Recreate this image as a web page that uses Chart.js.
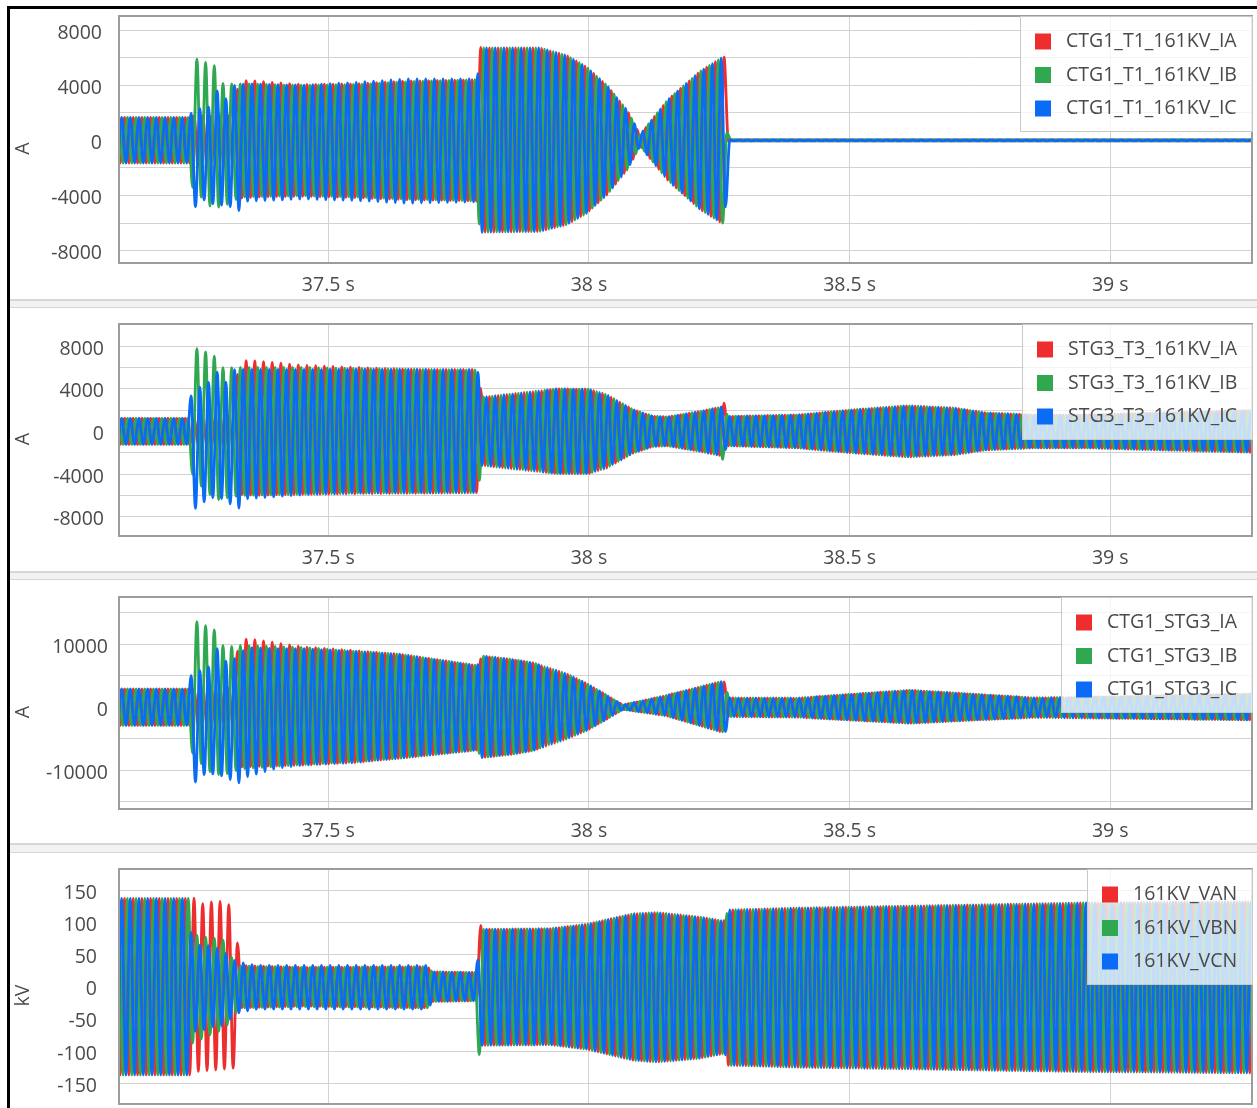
<!DOCTYPE html>
<html>
<head>
<meta charset="utf-8">
<script src="https://cdn.jsdelivr.net/npm/chart.js@4.4.1/dist/chart.umd.min.js"></script>
<style>
  html, body { margin: 0; padding: 0; background: #fff; overflow: hidden; }
  body { position: relative; width: 1257px; height: 1108px; }
  canvas { position: absolute; left: 0; }
  .frame { position: absolute; left: 7px; top: 6px; width: 1300px; height: 1200px;
           border-left: 3px solid #000; border-top: 3px solid #000; pointer-events: none; z-index: 2; }
  .splitter { position: absolute; left: 10px; right: 0; box-sizing: border-box; background: #f2f2f2;
              border-top: 2px solid #d6d6d6; border-bottom: 1px solid #d6d6d6; }
</style>
</head>
<body>
<div class="frame"></div>
<canvas id="p1" width="1257" height="290" style="top:9px"></canvas>
<div class="splitter" style="top:299px;height:9px"></div>
<canvas id="p2" width="1257" height="263" style="top:308px"></canvas>
<div class="splitter" style="top:571px;height:9px"></div>
<canvas id="p3" width="1257" height="263" style="top:580px"></canvas>
<div class="splitter" style="top:843px;height:10px"></div>
<canvas id="p4" width="1257" height="300" style="top:853px"></canvas>

<script>
// time axis (s) and 60 Hz carrier
const timeMin = 37.0985;
const timeMax = 39.2718;
const lineHz = 60;
const peakOrigin = 37.2424; // a positive peak of phase A
const xTicks = [37.5, 38, 38.5, 39];

// y grid / label values
const ampGrid8k = [-8000, -6000, -4000, -2000, 0, 2000, 4000, 6000, 8000];
const ampLabels8k = [-8000, -4000, 0, 4000, 8000];
const ampGrid15k = [-15000, -10000, -5000, 0, 5000, 10000, 15000];
const ampLabels15k = [-10000, 0, 10000];
const kvGrid = [-150, -100, -50, 0, 50, 100, 150];

// envelopes: [time s, positive peak, negative peak]
const ctg1T1Labels = ["CTG1_T1_161KV_IA", "CTG1_T1_161KV_IB", "CTG1_T1_161KV_IC"];
const ctg1T1IA = [
    [37.09, 1670, -1650], [37.234, 1670, -1650], [37.240, 1800, -1800], [37.322, 1800, -1800],
    [37.327, 4350, -4200], [37.36, 4300, -4100], [37.45, 4050, -4050], [37.55, 4100, -4150],
    [37.65, 4300, -4300], [37.786, 4400, -4400], [37.791, 6750, -6800], [37.80, 6700, -6650],
    [37.906, 6700, -6600], [37.958, 6150, -6100], [37.996, 5300, -5270], [38.034, 4000, -3950],
    [38.073, 2200, -2150], [38.098, 400, -400], [38.150, 2900, -2850], [38.213, 5000, -5000],
    [38.259, 6100, -6100], [38.265, 50, -50], [39.30, 50, -50],
];
const ctg1T1IB = [
    [37.09, 1670, -1650], [37.234, 1670, -1650], [37.238, 3000, -3350], [37.246, 5900, -3600],
    [37.256, 5800, -4100], [37.270, 5550, -4700], [37.283, 5400, -4950], [37.292, 4150, -4800],
    [37.31, 4100, -4600], [37.33, 4100, -4100], [37.45, 4000, -4000], [37.55, 4050, -4100],
    [37.65, 4250, -4250], [37.786, 4400, -4400], [37.791, 6750, -6700], [37.80, 6700, -6650],
    [37.906, 6700, -6600], [37.958, 6150, -6100], [37.996, 5300, -5270], [38.034, 4000, -3950],
    [38.073, 2200, -2150], [38.098, 400, -400], [38.150, 2900, -2850], [38.213, 5000, -5000],
    [38.255, 6000, -6000], [38.260, 6850, -6000], [38.265, 50, -50], [39.30, 50, -50],
];
const ctg1T1IC = [
    [37.09, 1670, -1650], [37.234, 1670, -1650], [37.2365, 1950, -1650], [37.2453, 2100, -4850],
    [37.2536, 2300, -4600], [37.262, 2350, -4300], [37.2703, 2400, -4450], [37.2787, 3000, -4600],
    [37.287, 3600, -4650], [37.2953, 3300, -4700], [37.3036, 3000, -4750], [37.312, 3500, -4800],
    [37.3203, 4000, -4950], [37.3287, 4050, -5100], [37.3453, 4100, -4400], [37.45, 4000, -4250],
    [37.55, 4200, -4350], [37.65, 4450, -4550], [37.786, 4450, -4450], [37.791, 6700, -6700],
    [37.80, 6700, -6650], [37.906, 6700, -6600], [37.958, 6150, -6100], [37.996, 5300, -5270],
    [38.034, 4000, -3950], [38.073, 2200, -2150], [38.098, 400, -400], [38.150, 2900, -2850],
    [38.213, 5000, -5000], [38.255, 6000, -6000], [38.261, 6000, -6100], [38.265, 50, -50],
    [39.30, 50, -50],
];

const stg3T3Labels = ["STG3_T3_161KV_IA", "STG3_T3_161KV_IB", "STG3_T3_161KV_IC"];
const stg3T3IA = [
    [37.09, 1220, -1220], [37.234, 1220, -1220], [37.322, 1500, -1500], [37.327, 6650, -5900],
    [37.36, 6600, -6000], [37.45, 6200, -5900], [37.55, 6000, -5850], [37.676, 5800, -5800],
    [37.786, 5800, -5750], [37.789, 5800, -6100], [37.794, 3200, -3200], [37.85, 3500, -3500],
    [37.938, 3980, -3950], [38.00, 3950, -3950], [38.034, 3450, -3450], [38.084, 2050, -2050],
    [38.123, 1420, -1420], [38.150, 1350, -1350], [38.213, 1880, -1880], [38.255, 2300, -2300],
    [38.261, 2800, -2300], [38.266, 1400, -1350], [38.40, 1550, -1550], [38.50, 2000, -2000],
    [38.61, 2400, -2400], [38.70, 2200, -2200], [38.76, 1750, -1750], [38.85, 1550, -1550],
    [38.95, 1550, -1550], [39.10, 1750, -1750], [39.30, 2000, -2000],
];
const stg3T3IB = [
    [37.09, 1220, -1220], [37.234, 1220, -1220], [37.238, 3000, -3900], [37.246, 7800, -4500],
    [37.262, 7500, -5500], [37.28, 7200, -6200], [37.290, 6000, -6400], [37.31, 5950, -6200],
    [37.33, 6000, -6000], [37.45, 6000, -5900], [37.55, 5900, -5800], [37.786, 5750, -5750],
    [37.794, 3200, -3200], [37.85, 3500, -3500], [37.938, 3980, -3950], [38.00, 3950, -3950],
    [38.034, 3450, -3450], [38.084, 2050, -2050], [38.123, 1420, -1420], [38.150, 1350, -1350],
    [38.213, 1880, -1880], [38.255, 2300, -2300], [38.260, 2300, -3600], [38.266, 1400, -1350],
    [38.40, 1550, -1550], [38.50, 2000, -2000], [38.61, 2400, -2400], [38.70, 2200, -2200],
    [38.76, 1750, -1750], [38.85, 1550, -1550], [38.95, 1550, -1550], [39.10, 1750, -1750],
    [39.30, 2000, -2000],
];
const stg3T3IC = [
    [37.09, 1220, -1220], [37.234, 1220, -1220], [37.2365, 3300, -1300], [37.2453, 3800, -7300],
    [37.2536, 4150, -6800], [37.262, 4300, -6600], [37.2703, 4600, -6300], [37.2787, 5000, -6200],
    [37.287, 5550, -6250], [37.2953, 5000, -6300], [37.3036, 4600, -6400], [37.312, 5200, -6800],
    [37.3203, 5800, -7100], [37.3287, 5800, -7200], [37.3453, 5800, -6300], [37.45, 5800, -5950],
    [37.55, 5850, -5800], [37.786, 5800, -5750], [37.794, 3200, -3200], [37.85, 3500, -3500],
    [37.938, 3980, -3950], [38.00, 3950, -3950], [38.034, 3450, -3450], [38.084, 2050, -2050],
    [38.123, 1420, -1420], [38.150, 1350, -1350], [38.213, 1880, -1880], [38.255, 2300, -2300],
    [38.266, 1400, -1350], [38.40, 1550, -1550], [38.50, 2000, -2000], [38.61, 2400, -2400],
    [38.70, 2200, -2200], [38.76, 1750, -1750], [38.85, 1550, -1550], [38.95, 1550, -1550],
    [39.10, 1750, -1750], [39.30, 2000, -2000],
];

const ctg1Stg3Labels = ["CTG1_STG3_IA", "CTG1_STG3_IB", "CTG1_STG3_IC"];
const ctg1Stg3IA = [
    [37.09, 2900, -2900], [37.234, 2900, -2900], [37.322, 3000, -3000], [37.327, 10900, -9500],
    [37.36, 10700, -9400], [37.45, 9600, -9200], [37.55, 9000, -8800], [37.6375, 8400, -8100],
    [37.786, 6600, -6800], [37.789, 6600, -8500], [37.794, 8150, -8000], [37.85, 7600, -7500],
    [37.892, 7050, -6900], [37.958, 5300, -5000], [37.996, 3750, -3700], [38.034, 1900, -1900],
    [38.065, 350, -350], [38.150, 1900, -1400], [38.252, 4050, -3900], [38.262, 4000, -3900],
    [38.266, 1500, -1500], [38.40, 1450, -1600], [38.616, 2700, -2550], [38.75, 2000, -2000],
    [38.852, 1500, -1650], [39.0, 1650, -1750], [39.30, 2150, -2050],
];
const ctg1Stg3IB = [
    [37.09, 2900, -2900], [37.234, 2900, -2900], [37.238, 4000, -7100], [37.246, 13650, -8000],
    [37.262, 13000, -9500], [37.28, 12600, -10700], [37.290, 9950, -10700], [37.31, 9600, -10500],
    [37.33, 9800, -9800], [37.45, 9500, -9100], [37.55, 8900, -8700], [37.6375, 8400, -8100],
    [37.786, 6600, -6800], [37.794, 8150, -8000], [37.85, 7600, -7500], [37.892, 7050, -6900],
    [37.958, 5300, -5000], [37.996, 3750, -3700], [38.034, 1900, -1900], [38.065, 350, -350],
    [38.150, 1900, -1400], [38.252, 4050, -3900], [38.259, 5900, -3900], [38.266, 1500, -1500],
    [38.40, 1450, -1600], [38.616, 2700, -2550], [38.75, 2000, -2000], [38.852, 1500, -1650],
    [39.0, 1650, -1750], [39.30, 2150, -2050],
];
const ctg1Stg3IC = [
    [37.09, 2900, -2900], [37.234, 2900, -2900], [37.2365, 5000, -2900], [37.2453, 5400, -12000],
    [37.2536, 5800, -11200], [37.262, 6100, -10700], [37.2703, 6400, -10500], [37.2787, 8000, -10600],
    [37.287, 9300, -10700], [37.2953, 8200, -10900], [37.3036, 7300, -11000], [37.312, 7500, -11500],
    [37.3203, 7700, -11800], [37.3287, 8500, -12000], [37.3453, 9500, -11000], [37.40, 9300, -9700],
    [37.45, 9300, -9200], [37.55, 8900, -8800], [37.6375, 8400, -8100], [37.786, 6600, -6800],
    [37.794, 8150, -8000], [37.85, 7600, -7500], [37.892, 7050, -6900], [37.958, 5300, -5000],
    [37.996, 3750, -3700], [38.034, 1900, -1900], [38.065, 350, -350], [38.150, 1900, -1400],
    [38.252, 4050, -3900], [38.259, 4000, -5500], [38.266, 1500, -1500], [38.40, 1450, -1600],
    [38.616, 2700, -2550], [38.75, 2000, -2000], [38.852, 1500, -1650], [39.0, 1650, -1750],
    [39.30, 2150, -2050],
];

const kv161Labels = ["161KV_VAN", "161KV_VBN", "161KV_VCN"];
const kv161VAN = [
    [37.09, 137, -137], [37.234, 137, -137], [37.24, 139, -133], [37.255, 128, -131],
    [37.27, 131, -130], [37.29, 133, -129], [37.31, 127, -127], [37.322, 125, -126],
    [37.328, 33, -33], [37.45, 30, -30], [37.69, 31, -33], [37.70, 23, -23],
    [37.786, 22, -22], [37.789, 103, -92], [37.795, 89, -91], [37.925, 90, -90],
    [37.996, 97, -97], [38.084, 113, -114], [38.131, 115, -117], [38.213, 108, -111],
    [38.257, 102, -104], [38.262, 104, -106], [38.266, 119, -122], [38.40, 122, -125],
    [38.95, 130, -132], [39.30, 132, -134],
];
const kv161VBN = [
    [37.09, 137, -137], [37.234, 137, -137], [37.238, 82, -88], [37.26, 77, -80],
    [37.28, 75, -72], [37.30, 72, -66], [37.315, 45, -50], [37.33, 32, -33],
    [37.45, 30, -31], [37.69, 31, -33], [37.70, 23, -23], [37.786, 22, -22],
    [37.789, 90, -107], [37.795, 89, -91], [37.925, 90, -90], [37.996, 97, -97],
    [38.084, 113, -114], [38.131, 115, -117], [38.213, 108, -111], [38.257, 102, -104],
    [38.262, 104, -106], [38.266, 119, -122], [38.40, 122, -125], [38.95, 130, -132],
    [39.30, 132, -134],
];
const kv161VCN = [
    [37.09, 137, -137], [37.234, 137, -137], [37.238, 62, -70], [37.26, 65, -67],
    [37.28, 62, -62], [37.30, 55, -60], [37.315, 42, -48], [37.33, 38, -40],
    [37.36, 33, -35], [37.45, 33, -35], [37.69, 33, -35], [37.70, 23, -23],
    [37.786, 22, -22], [37.789, 92, -107], [37.795, 89, -91], [37.925, 90, -90],
    [37.996, 97, -97], [38.084, 113, -114], [38.131, 115, -117], [38.213, 108, -111],
    [38.257, 102, -104], [38.262, 104, -106], [38.266, 119, -122], [38.40, 122, -125],
    [38.95, 130, -132], [39.30, 132, -134],
];

const phaseColors = ["#ee2e2e", "#2fa84f", "#0a6cf5"];
const phaseLag = [0, 1 / 180, 2 / 180];
const gridColor = "#d2d2d2";
const frameColor = "#9c9c9c";
const textColor = "#4a4a4a";
const fontSize = 19.5;
const fontFamily = '"Open Sans", sans-serif';

// envelope value at time t (straight between read points)
function envelopeAt(env, t) {
    if (t <= env[0][0]) return [env[0][1], env[0][2]];
    for (let i = 1; i < env.length; i++) {
        if (t <= env[i][0]) {
            const [t0, h0, l0] = env[i - 1];
            const [t1, h1, l1] = env[i];
            const f = (t - t0) / (t1 - t0);
            return [h0 + (h1 - h0) * f, l0 + (l1 - l0) * f];
        }
    }
    const last = env[env.length - 1];
    return [last[1], last[2]];
}

// one point per half cycle: alternating positive / negative peaks
function peakPoints(env, lag) {
    const half = 1 / (2 * lineHz);
    const start = peakOrigin + lag;
    const points = [];
    for (let k = Math.floor((timeMin - start) / half) - 1; ; k++) {
        const t = start + k * half;
        if (t > timeMax + half) break;
        const [hi, lo] = envelopeAt(env, t);
        points.push({ x: t, y: Math.abs(k) % 2 === 0 ? hi : lo });
    }
    return points;
}

const panelDecor = {
    id: "panelDecor",
    afterDatasetsDraw(chart, args, opts) {
        const { ctx, chartArea: a } = chart;
        ctx.save();
        ctx.strokeStyle = frameColor;
        ctx.lineWidth = 2;
        ctx.strokeRect(a.left, a.top, a.right - a.left, a.bottom - a.top);

        ctx.font = `${fontSize}px ${fontFamily}`;
        const sets = chart.data.datasets;
        const textW = Math.max(...sets.map((d) => ctx.measureText(d.label).width));
        const boxW = Math.round(textW + 61);
        const boxX = a.right - boxW;
        const boxY = a.top;
        ctx.fillStyle = "rgba(255,255,255,0.76)";
        ctx.fillRect(boxX, boxY, boxW, 115);
        ctx.strokeStyle = "#c8c8c8";
        ctx.lineWidth = 1;
        ctx.strokeRect(boxX + 0.5, boxY + 0.5, boxW, 115);
        ctx.textAlign = "left";
        ctx.textBaseline = "middle";
        sets.forEach((d, i) => {
            const cy = boxY + 25.5 + i * 33.5;
            ctx.fillStyle = d.borderColor;
            ctx.fillRect(boxX + 15, cy - 8, 16, 16);
            ctx.fillStyle = textColor;
            ctx.fillText(d.label, boxX + 46, cy);
        });

        ctx.translate(23, (a.top + a.bottom) / 2 + 9);
        ctx.rotate(-Math.PI / 2);
        ctx.textAlign = "center";
        ctx.fillText(opts.unit, 0, 0);
        ctx.restore();
    },
};

const panels = [
    { id: "p1", unit: "A", labels: ctg1T1Labels, series: [ctg1T1IA, ctg1T1IB, ctg1T1IC],
      yMin: -8890, yMax: 9015, yGrid: ampGrid8k, yLabels: ampLabels8k, labelPad: 17, padTop: 7, xHeight: 36 },
    { id: "p2", unit: "A", labels: stg3T3Labels, series: [stg3T3IA, stg3T3IB, stg3T3IC],
      yMin: -9810, yMax: 10063, yGrid: ampGrid8k, yLabels: ampLabels8k, labelPad: 15, padTop: 16, xHeight: 35 },
    { id: "p3", unit: "A", labels: ctg1Stg3Labels, series: [ctg1Stg3IA, ctg1Stg3IB, ctg1Stg3IC],
      yMin: -16160, yMax: 17490, yGrid: ampGrid15k, yLabels: ampLabels15k, labelPad: 11, padTop: 17, xHeight: 34 },
    { id: "p4", unit: "kV", labels: kv161Labels, series: [kv161VAN, kv161VBN, kv161VCN],
      yMin: -182.1, yMax: 182.6, yGrid: kvGrid, yLabels: kvGrid, labelPad: 22, padTop: 16, xHeight: 49 },
];

const font = { family: fontFamily, size: fontSize };

panels.forEach((p) => {
    new Chart(document.getElementById(p.id), {
        type: "line",
        data: {
            datasets: p.series.map((env, i) => ({
                label: p.labels[i],
                data: peakPoints(env, phaseLag[i]),
                borderColor: phaseColors[i],
                borderWidth: 2.8,
                pointRadius: 0,
                fill: false,
                cubicInterpolationMode: "monotone",
                order: 2 - i,
            })),
        },
        options: {
            responsive: false,
            animation: false,
            events: [],
            devicePixelRatio: 1,
            layout: { padding: { top: p.padTop, right: 5, left: 0, bottom: 0 } },
            scales: {
                x: {
                    type: "linear",
                    min: timeMin,
                    max: timeMax,
                    afterFit: (s) => {
                        s.height = p.xHeight;
                        s.paddingLeft = 0;
                        s.paddingRight = 0;
                    },
                    afterBuildTicks: (s) => { s.ticks = xTicks.map((v) => ({ value: v })); },
                    grid: { color: gridColor, drawTicks: false },
                    border: { display: false },
                    ticks: {
                        autoSkip: false, maxRotation: 0, padding: 11,
                        color: textColor, font,
                        callback: (v) => `${v} s`,
                    },
                },
                y: {
                    min: p.yMin,
                    max: p.yMax,
                    afterFit: (s) => {
                        s.width = 119;
                        s.paddingTop = 0;
                        s.paddingBottom = 0;
                    },
                    afterBuildTicks: (s) => { s.ticks = p.yGrid.map((v) => ({ value: v })); },
                    grid: { color: gridColor, drawTicks: false },
                    border: { display: false },
                    ticks: {
                        autoSkip: false, padding: p.labelPad, labelOffset: 3,
                        color: textColor, font,
                        callback: (v) => (p.yLabels.includes(v) ? String(v) : ""),
                    },
                },
            },
            plugins: {
                legend: { display: false },
                tooltip: { enabled: false },
                panelDecor: { unit: p.unit },
            },
        },
        plugins: [panelDecor],
    });
});
</script>
</body>
</html>
